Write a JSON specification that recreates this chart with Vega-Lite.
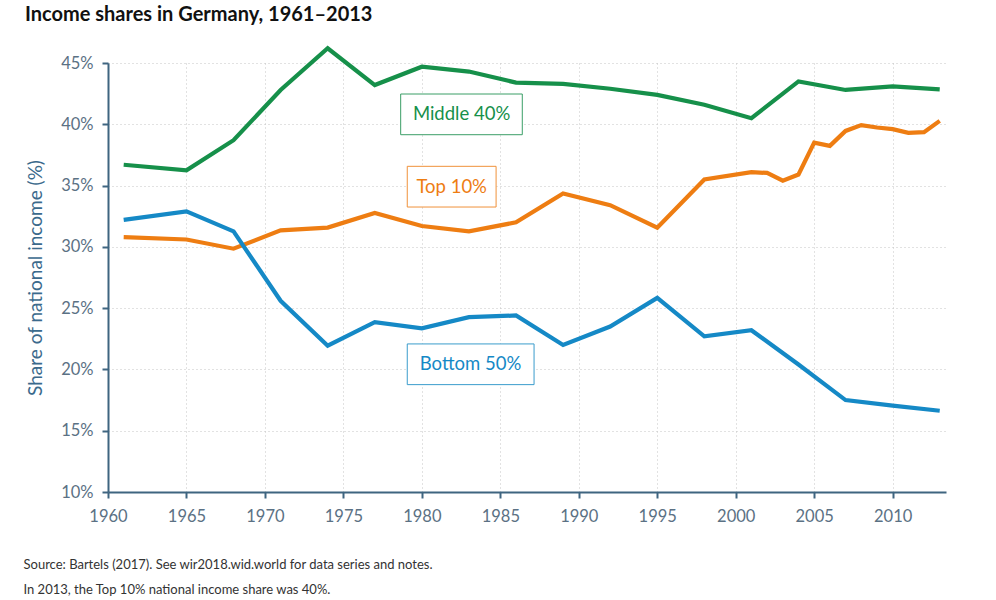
{
  "$schema": "https://vega.github.io/schema/vega-lite/v6.json",
  "autosize": {"type": "none"},
  "width": 838,
  "height": 429,
  "padding": {"left": 108, "top": 63, "right": 50, "bottom": 108},
  "background": "white",
  "title": {
    "text": "Income shares in Germany, 1961–2013",
    "anchor": "start",
    "frame": "group",
    "dx": -83,
    "offset": 15,
    "font": "Lato",
    "fontSize": 20,
    "fontWeight": "bold",
    "color": "#111111"
  },
  "config": {
    "view": {"stroke": null},
    "font": "Lato"
  },
  "datasets": {
    "series": [
      {"year": 1961, "group": "Middle 40%", "share": 36.7},
      {"year": 1965, "group": "Middle 40%", "share": 36.25},
      {"year": 1968, "group": "Middle 40%", "share": 38.7},
      {"year": 1971, "group": "Middle 40%", "share": 42.8},
      {"year": 1974, "group": "Middle 40%", "share": 46.2},
      {"year": 1977, "group": "Middle 40%", "share": 43.2},
      {"year": 1980, "group": "Middle 40%", "share": 44.7},
      {"year": 1983, "group": "Middle 40%", "share": 44.3},
      {"year": 1986, "group": "Middle 40%", "share": 43.4},
      {"year": 1989, "group": "Middle 40%", "share": 43.3},
      {"year": 1992, "group": "Middle 40%", "share": 42.9},
      {"year": 1995, "group": "Middle 40%", "share": 42.4},
      {"year": 1998, "group": "Middle 40%", "share": 41.6},
      {"year": 2001, "group": "Middle 40%", "share": 40.5},
      {"year": 2004, "group": "Middle 40%", "share": 43.5},
      {"year": 2007, "group": "Middle 40%", "share": 42.8},
      {"year": 2010, "group": "Middle 40%", "share": 43.1},
      {"year": 2013, "group": "Middle 40%", "share": 42.85},
      {"year": 1961, "group": "Top 10%", "share": 30.8},
      {"year": 1965, "group": "Top 10%", "share": 30.6},
      {"year": 1968, "group": "Top 10%", "share": 29.85},
      {"year": 1971, "group": "Top 10%", "share": 31.35},
      {"year": 1974, "group": "Top 10%", "share": 31.57},
      {"year": 1977, "group": "Top 10%", "share": 32.76},
      {"year": 1980, "group": "Top 10%", "share": 31.7},
      {"year": 1983, "group": "Top 10%", "share": 31.26},
      {"year": 1986, "group": "Top 10%", "share": 32.0},
      {"year": 1989, "group": "Top 10%", "share": 34.35},
      {"year": 1992, "group": "Top 10%", "share": 33.4},
      {"year": 1995, "group": "Top 10%", "share": 31.57},
      {"year": 1998, "group": "Top 10%", "share": 35.5},
      {"year": 2001, "group": "Top 10%", "share": 36.1},
      {"year": 2002, "group": "Top 10%", "share": 36.03},
      {"year": 2003, "group": "Top 10%", "share": 35.4},
      {"year": 2004, "group": "Top 10%", "share": 35.9},
      {"year": 2005, "group": "Top 10%", "share": 38.5},
      {"year": 2006, "group": "Top 10%", "share": 38.24},
      {"year": 2007, "group": "Top 10%", "share": 39.46},
      {"year": 2008, "group": "Top 10%", "share": 39.93},
      {"year": 2009, "group": "Top 10%", "share": 39.74},
      {"year": 2010, "group": "Top 10%", "share": 39.6},
      {"year": 2011, "group": "Top 10%", "share": 39.3},
      {"year": 2012, "group": "Top 10%", "share": 39.36},
      {"year": 2013, "group": "Top 10%", "share": 40.28},
      {"year": 1961, "group": "Bottom 50%", "share": 32.2},
      {"year": 1965, "group": "Bottom 50%", "share": 32.9},
      {"year": 1968, "group": "Bottom 50%", "share": 31.26},
      {"year": 1971, "group": "Bottom 50%", "share": 25.6},
      {"year": 1974, "group": "Bottom 50%", "share": 21.94},
      {"year": 1977, "group": "Bottom 50%", "share": 23.85},
      {"year": 1980, "group": "Bottom 50%", "share": 23.36},
      {"year": 1983, "group": "Bottom 50%", "share": 24.26},
      {"year": 1986, "group": "Bottom 50%", "share": 24.4},
      {"year": 1989, "group": "Bottom 50%", "share": 22.0},
      {"year": 1992, "group": "Bottom 50%", "share": 23.5},
      {"year": 1995, "group": "Bottom 50%", "share": 25.84},
      {"year": 1998, "group": "Bottom 50%", "share": 22.7},
      {"year": 2001, "group": "Bottom 50%", "share": 23.2},
      {"year": 2004, "group": "Bottom 50%", "share": 20.4},
      {"year": 2007, "group": "Bottom 50%", "share": 17.5},
      {"year": 2010, "group": "Bottom 50%", "share": 17.04},
      {"year": 2013, "group": "Bottom 50%", "share": 16.63}
    ],
    "labels": [
      {"group": "Middle 40%", "x1": 1978.65, "x2": 1986.4, "y1": 42.47, "y2": 39.15, "xc": 1982.53, "yc": 40.81},
      {"group": "Top 10%", "x1": 1979.07, "x2": 1984.73, "y1": 36.57, "y2": 33.25, "xc": 1981.9, "yc": 34.91},
      {"group": "Bottom 50%", "x1": 1979.07, "x2": 1987.15, "y1": 22.08, "y2": 18.76, "xc": 1983.1, "yc": 20.42}
    ]
  },
  "layer": [
    {
      "data": {"name": "series"},
      "mark": {"type": "line", "strokeWidth": 4.2, "clip": false, "strokeJoin": "miter"},
      "encoding": {
        "x": {
          "field": "year", "type": "quantitative",
          "scale": {"domain": [1960, 2013.4], "nice": false, "zero": false},
          "axis": {
            "values": [1960, 1965, 1970, 1975, 1980, 1985, 1990, 1995, 2000, 2005, 2010],
            "format": "d",
            "labelFlush": false,
            "labelFont": "Lato", "labelFontSize": 16.5, "labelColor": "#5b7184",
            "labelPadding": 10,
            "domainColor": "#3f6580", "domainWidth": 2,
            "tickColor": "#3f6580", "tickWidth": 2, "tickSize": 6,
            "grid": true, "gridColor": "#c4c4c4", "gridDash": [1, 3], "gridWidth": 1,
            "title": ["Source: Bartels (2017). See wir2018.wid.world for data series and notes.", "In 2013, the Top 10% national income share was 40%."],
            "titleFont": "Lato", "titleFontSize": 13, "titleFontWeight": "normal", "titleColor": "#333333",
            "titleAlign": "left", "titleAnchor": "start", "titleBaseline": "alphabetic",
            "titleX": -85, "titleY": 76, "titleLineHeight": 25
          }
        },
        "y": {
          "field": "share", "type": "quantitative",
          "scale": {"domain": [10, 45], "nice": false, "zero": false},
          "axis": {
            "values": [10, 15, 20, 25, 30, 35, 40, 45],
            "labelExpr": "datum.value + '%'",
            "labelFont": "Lato", "labelFontSize": 16.5, "labelColor": "#5b7184",
            "labelPadding": 9,
            "domainColor": "#3f6580", "domainWidth": 2,
            "tickColor": "#3f6580", "tickWidth": 2, "tickSize": 6,
            "grid": true, "gridColor": "#c4c4c4", "gridDash": [1, 3], "gridWidth": 1,
            "title": "Share of national income (%)",
            "titleFont": "Lato", "titleFontSize": 19, "titleFontWeight": "normal", "titleColor": "#3b6a8c",
            "titlePadding": 15
          }
        },
        "color": {
          "field": "group", "type": "nominal",
          "scale": {"domain": ["Middle 40%", "Top 10%", "Bottom 50%"], "range": ["#16904a", "#ee7d12", "#1589c6"]},
          "legend": null
        }
      }
    },
    {
      "data": {"name": "labels"},
      "mark": {"type": "rect", "fill": "white", "strokeWidth": 1},
      "encoding": {
        "x": {"field": "x1", "type": "quantitative"},
        "x2": {"field": "x2"},
        "y": {"field": "y1", "type": "quantitative"},
        "y2": {"field": "y2"},
        "stroke": {
          "field": "group", "type": "nominal",
          "scale": {"domain": ["Middle 40%", "Top 10%", "Bottom 50%"], "range": ["#3a9e66", "#f0913a", "#3a9ccc"]},
          "legend": null
        }
      }
    },
    {
      "data": {"name": "labels"},
      "mark": {"type": "text", "font": "Lato", "fontSize": 18.5, "align": "center", "baseline": "middle"},
      "encoding": {
        "x": {"field": "xc", "type": "quantitative"},
        "y": {"field": "yc", "type": "quantitative"},
        "text": {"field": "group"},
        "color": {
          "field": "group", "type": "nominal",
          "scale": {"domain": ["Middle 40%", "Top 10%", "Bottom 50%"], "range": ["#16904a", "#ee7d12", "#1589c6"]},
          "legend": null
        }
      }
    }
  ]
}
